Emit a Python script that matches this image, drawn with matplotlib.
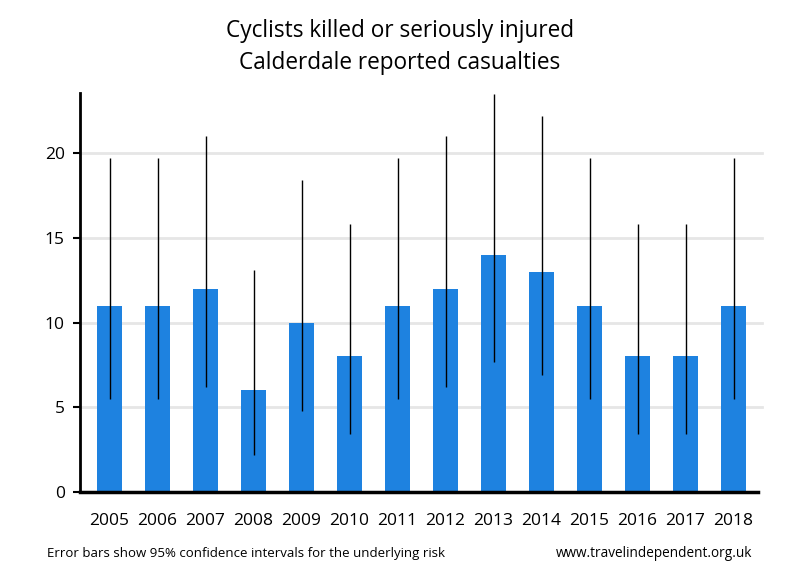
import matplotlib.pyplot as plt
import numpy as np

plt.rcParams['font.family'] = ['Open Sans', 'DejaVu Sans']

# Данные
years = ['2005', '2006', '2007', '2008', '2009', '2010', '2011',
         '2012', '2013', '2014', '2015', '2016', '2017', '2018']
casualties = [11, 11, 12, 6, 10, 8, 11, 12, 14, 13, 11, 8, 8, 11]
ci_low = [5.5, 5.5, 6.2, 2.2, 4.8, 3.45, 5.5, 6.2, 7.65, 6.9, 5.5, 3.45, 3.45, 5.5]
ci_high = [19.7, 19.7, 21.0, 13.1, 18.4, 15.8, 19.7, 21.0, 23.5, 22.2, 19.7, 15.8, 15.8, 19.7]

fig = plt.figure(figsize=(8, 5.8), dpi=100)
ax = fig.add_axes([0.1, 0.1517, 0.8475, 0.688])

x = np.arange(len(years))
ax.bar(x, casualties, width=0.52, color='#1e82e0', zorder=2)
ax.vlines(x, ci_low, ci_high, color='black', linewidth=1, zorder=3)

# Сетка
ax.set_ylim(0, 23.55)
ax.set_xlim(-0.615, 13.51)
ax.set_yticks([0, 5, 10, 15, 20])
for v in [5, 10, 15, 20]:
    ax.axhline(v, xmin=0, xmax=1.006, color='#e6e6e6', linewidth=2, zorder=1, clip_on=False)

ax.set_xticks(x)
ax.set_xticklabels(years)
ax.tick_params(axis='x', length=0, labelsize=12.5, pad=15)
ax.tick_params(axis='y', length=5, width=1.5, labelsize=12.5, pad=6)

for s in ['top', 'right']:
    ax.spines[s].set_visible(False)
ax.spines['left'].set_linewidth(2)
ax.spines['bottom'].set_linewidth(2.5)

fig.text(0.5, 0.946, 'Cyclists killed or seriously injured', ha='center', va='center', fontsize=16.3)
fig.text(0.5, 0.891, 'Calderdale reported casualties', ha='center', va='center', fontsize=16.3)

fig.text(0.059, 0.045, 'Error bars show 95% confidence intervals for the underlying risk',
         ha='left', va='center', fontsize=9.5)
fig.text(0.94, 0.045, 'www.travelindependent.org.uk', ha='right', va='center', fontsize=9.8)

fig.savefig('out.png', dpi=100)
